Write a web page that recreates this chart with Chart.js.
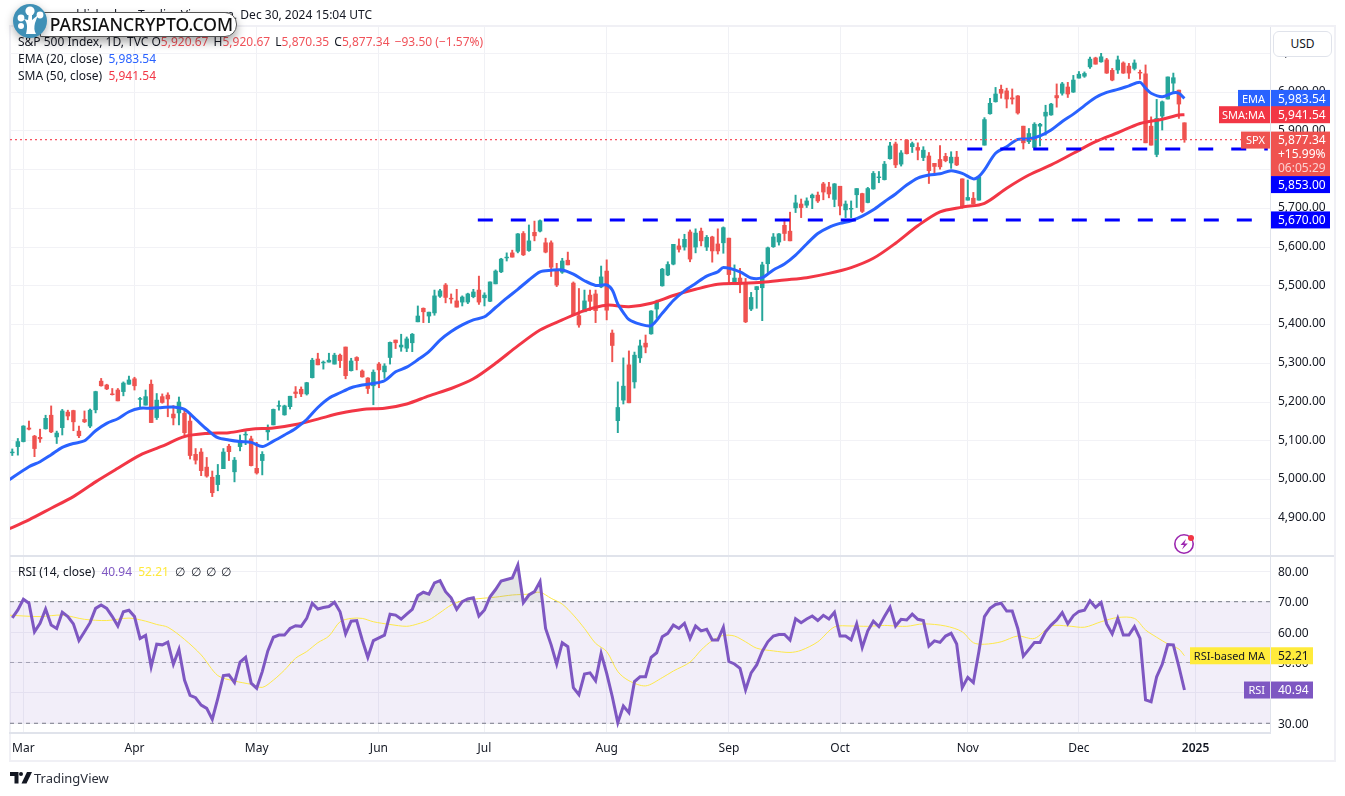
<!DOCTYPE html>
<html>
<head>
<meta charset="utf-8">
<title>S&amp;P 500 Index</title>
<script src="https://cdn.jsdelivr.net/npm/chart.js@4"></script>
<style>
  html, body { margin: 0; padding: 0; background: #fff; }
  body { width: 1345px; height: 796px; position: relative; overflow: hidden; font: 12px "Noto Sans", sans-serif; color: #131722; }
  canvas { position: absolute; left: 0; top: 0; }
  .frame { position: absolute; left: 9px; top: 25px; width: 1323px; height: 733px; border: 2px solid #f0f0f5; }
  .txt { position: absolute; white-space: nowrap; line-height: 16px; }
  .txt span { margin-right: 2px; }
  .txt i { font-style: normal; position: absolute; top: 0; }
  .red { color: #f0535a; }
  .blue { color: #2962ff; }
  .sma { color: #f23645; }
  .usd { position: absolute; left: 1273px; top: 31px; width: 57px; height: 24px; line-height: 24px; text-align: center; background: #fff; border: 1px solid #e0e3eb; border-radius: 6px; }
  .pill { position: absolute; left: 40px; top: 12px; width: 192px; height: 23px; line-height: 23px; background: #fff; border: 1px solid #555; border-radius: 0 12px 12px 0; font-weight: 500; font-size: 17.5px; color: #111; text-align: right; padding-right: 3px; box-shadow: 0 5px 10px rgba(0,0,0,.35); }
  .logo { position: absolute; left: 12px; top: 4px; filter: drop-shadow(0 3px 4px rgba(0,0,0,.3)); }
  .footer { position: absolute; left: 34px; top: 770px; font-size: 13px; color: #2a2e39; }
</style>
</head>
<body>
<div class="frame"></div>
<canvas id="chart" width="1345" height="796"></canvas>

<div class="txt" style="right:973px;top:7px">m published on TradingView.com, Dec 30, 2024 15:04 UTC</div>
<div class="txt" style="left:18px;top:34px">S&amp;P 500 Index, 1D, TVC&nbsp;O<span class="red">5,920.67</span> H<span class="red">5,920.67</span> L<span class="red">5,870.35</span> C<span class="red">5,877.34</span> <span class="red">−93.50 (−1.57%)</span></div>
<div class="txt" style="left:18px;top:51px">EMA (20, close)&nbsp; <span class="blue">5,983.54</span></div>
<div class="txt" style="left:18px;top:68px">SMA (50, close)&nbsp; <span class="sma">5,941.54</span></div>
<div class="txt" style="left:18px;top:564px;width:220px">RSI (14, close)&nbsp; <span style="color:#7e57c2;margin-right:3px">40.94</span> <span style="color:#ffe93b">52.21</span><i style="left:157px">∅</i><i style="left:173px">∅</i><i style="left:188px">∅</i><i style="left:203px">∅</i></div>
<div class="usd">USD</div>

<div class="pill">PARSIANCRYPTO.COM</div>
<svg class="logo" width="38" height="38" viewBox="0 0 38 38">
  <circle cx="18" cy="17" r="17" fill="#3f90b6"/>
  <g transform="translate(-1,-6)">
    <path d="M15 36 C17 28 16 24 13 21 L17 22 L18 14 L21 14 L21 22 L27 17 L24 25 C23 29 23 33 25 36 Z" fill="#fff"/>
    <circle cx="19" cy="13" r="4.6" fill="#fff"/>
    <circle cx="29" cy="17" r="3.4" fill="#fff"/>
    <circle cx="10" cy="20" r="3.4" fill="#fff"/>
    <circle cx="10" cy="28" r="3" fill="#fff"/>
  </g>
</svg>

<svg style="position:absolute;left:1172px;top:531px" width="26" height="26" viewBox="0 0 26 26">
  <circle cx="12" cy="13" r="9.2" fill="#fff" stroke="#9c27b0" stroke-width="1.6"/>
  <path d="M14 8 L8.5 14 L12 14 L10 18.5 L15.8 12.4 L12.4 12.4 Z" fill="#9c27b0"/>
  <circle cx="19" cy="7" r="3" fill="#f23645"/>
</svg>

<svg style="position:absolute;left:10px;top:772px" width="22" height="12" viewBox="0 0 22 12">
  <path d="M0 0 H8.5 V11.5 H4.5 V4 H0 Z" fill="#131722"/>
  <circle cx="11" cy="2" r="2" fill="#131722"/>
  <path d="M17 0 H22 L16.5 11.5 H11.5 Z" fill="#131722"/>
</svg>
<div class="txt footer">TradingView</div>

<script>
// Bar number 0 is Feb 28 2024, last bar is Dec 30 2024
const candleOpen = [
  5069,5085,5098,5133,5112,5109,5131,5166,5110,5134,
  5174,5178,5125,5155,5138,5180,5254,5244,5221,5231,
  5227,5246,5260,5207,5192,5246,5160,5214,5218,5169,
  5172,5171,5151,5065,5071,5032,5006,4987,5028,5086,
  5020,5085,5115,5105,5029,5049,5123,5141,5189,5167,
  5188,5226,5233,5221,5263,5311,5301,5303,5298,5321,
  5342,5281,5315,5280,5262,5242,5298,5278,5315,5360,
  5342,5339,5353,5407,5442,5422,5430,5473,5502,5468,
  5461,5458,5458,5472,5489,5469,5460,5505,5536,5572,
  5585,5589,5635,5591,5638,5641,5611,5611,5541,5535,
  5566,5507,5423,5433,5476,5479,5497,5538,5378,5152,
  5205,5296,5252,5314,5352,5376,5440,5500,5528,5556,
  5603,5600,5639,5600,5641,5600,5626,5608,5611,5623,
  5506,5520,5508,5440,5490,5495,5557,5601,5613,5656,
  5641,5701,5711,5708,5727,5734,5763,5755,5723,5757,
  5696,5698,5735,5738,5715,5750,5779,5774,5828,5866,
  5814,5876,5859,5857,5831,5835,5816,5826,5834,5817,
  5832,5776,5721,5726,5721,5863,5944,5975,6007,6003,
  5985,5990,5912,5872,5857,5912,5938,5941,5991,5997,
  6013,6000,6036,6041,6065,6088,6078,6083,6056,6057,
  6075,6067,6061,6051,6047,5912,5839,5938,5982,6023,
  6005,5920.67
];
const candleHigh = [
  5079,5106,5139,5151,5114,5130,5166,5190,5125,5181,
  5179,5179,5138,5177,5182,5228,5261,5246,5235,5235,
  5252,5267,5264,5212,5231,5257,5222,5221,5224,5191,
  5213,5179,5169,5080,5080,5057,5022,5039,5080,5091,
  5057,5115,5124,5112,5096,5072,5141,5182,5203,5192,
  5215,5240,5239,5251,5313,5326,5306,5326,5326,5324,
  5342,5313,5317,5283,5263,5283,5302,5299,5355,5360,
  5375,5368,5377,5448,5443,5432,5489,5491,5506,5479,
  5491,5474,5481,5491,5525,5482,5510,5541,5571,5585,
  5592,5635,5640,5657,5667,5670,5623,5616,5558,5571,
  5587,5510,5493,5489,5489,5489,5551,5567,5386,5252,
  5314,5332,5329,5360,5373,5436,5463,5545,5562,5607,
  5621,5633,5644,5647,5649,5630,5628,5647,5652,5623,
  5554,5545,5519,5483,5498,5561,5600,5635,5635,5672,
  5690,5734,5724,5727,5737,5742,5767,5767,5764,5757,
  5719,5719,5751,5739,5754,5795,5795,5821,5870,5871,
  5849,5878,5871,5869,5859,5844,5816,5862,5842,5846,
  5847,5776,5773,5741,5783,5934,5984,6012,6018,6010,
  6008,5991,5912,5906,5921,5919,5966,5971,6021,6025,
  6025,6043,6053,6052,6090,6090,6100,6087,6061,6093,
  6078,6074,6083,6057,6070,5936,5981,5977,6039,6049,
  6005,5920.67
];
const candleLow = [
  5062,5063,5097,5128,5059,5096,5130,5121,5093,5115,
  5154,5126,5108,5147,5134,5172,5241,5232,5218,5203,
  5216,5246,5231,5184,5192,5147,5155,5197,5162,5141,
  5141,5115,5053,5040,5010,5006,4956,4971,5028,5049,
  4994,5074,5090,5035,5014,5012,5102,5141,5179,5166,
  5182,5211,5214,5218,5262,5296,5285,5303,5298,5289,
  5260,5280,5283,5264,5222,5193,5237,5261,5298,5338,
  5331,5330,5330,5407,5405,5405,5424,5470,5456,5455,
  5445,5448,5454,5469,5452,5448,5459,5505,5534,5564,
  5574,5585,5578,5589,5616,5639,5585,5524,5498,5532,
  5554,5423,5393,5433,5436,5405,5495,5412,5304,5121,
  5195,5198,5236,5302,5327,5375,5416,5499,5526,5554,
  5587,5592,5562,5585,5603,5591,5561,5582,5584,5506,
  5505,5482,5405,5436,5442,5410,5534,5599,5605,5617,
  5616,5689,5676,5702,5699,5715,5722,5727,5704,5683,
  5676,5676,5702,5689,5714,5749,5766,5773,5827,5805,
  5809,5840,5844,5825,5823,5764,5786,5801,5820,5803,
  5810,5700,5721,5711,5721,5863,5943,5974,5984,5959,
  5969,5943,5853,5867,5855,5861,5889,5940,5961,5992,
  5986,5999,6036,6038,6061,6072,6077,6048,6029,6048,
  6048,6035,6057,6033,5869,5863,5833,5902,5982,5999,
  5932,5870.35
];
const candleClose = [
  5071,5098,5138,5130,5080,5105,5158,5123,5120,5177,
  5164,5149,5113,5149,5179,5227,5242,5234,5219,5203,
  5249,5257,5242,5209,5214,5147,5205,5199,5208,5159,
  5200,5121,5062,5050,5023,5009,4966,5011,5071,5072,
  5050,5101,5117,5036,5017,5065,5128,5181,5191,5190,
  5215,5222,5221,5250,5308,5296,5303,5308,5321,5307,
  5268,5306,5307,5265,5235,5277,5283,5293,5354,5353,
  5347,5363,5375,5422,5433,5432,5474,5487,5470,5466,
  5445,5471,5479,5484,5458,5476,5510,5538,5569,5574,
  5574,5634,5580,5616,5629,5668,5587,5548,5502,5564,
  5554,5425,5399,5461,5460,5436,5523,5437,5346,5186,
  5241,5198,5321,5345,5342,5435,5460,5543,5555,5607,
  5594,5620,5569,5636,5616,5625,5590,5590,5650,5529,
  5520,5508,5407,5470,5498,5554,5598,5626,5634,5635,
  5616,5714,5702,5719,5734,5719,5742,5737,5763,5706,
  5711,5700,5751,5692,5751,5790,5781,5814,5861,5812,
  5843,5841,5867,5850,5850,5797,5808,5807,5823,5832,
  5812,5704,5728,5711,5781,5929,5971,5995,5997,5982,
  5982,5946,5869,5893,5917,5917,5948,5969,5985,6021,
  5995,6031,6046,6048,6085,6072,6091,6049,6031,6083,
  6049,6049,6075,6049,5869,5863,5932,5975,6039,6037,
  5969,5877.34
];

const emaBars = [
  -1,3,5,7,9,11,13,15,17,19,21,23,25,27,29,31,33,35,37,39,41,43,45,47,49,51,53,55,
  57,59,61,63,65,67,69,71,73,75,77,79,81,83,85,87,89,91,93,95,97,99,101,103,105,107,108,109,
  110,111,113,115,117,119,121,123,125,127,128,131,133,135,137,139,141,143,145,147,149,151,153,155,157,159,161,163,
  165,167,169,171,173,174,175,177,179,181,183,185,187,189,191,193,195,197,199,201,203,204,205,207,209,210,211
];
const emaValues = [
  4995,5033,5046,5064,5083,5093,5100,5126,5145,5157,5175,5184,5184,5186,5187,5181,5156,5130,5108,5102,5098,5096,5085,5099,5115,5132,5155,5186,
  5210,5224,5237,5244,5248,5255,5278,5290,5309,5330,5360,5382,5399,5412,5420,5444,5468,5491,5515,5536,5540,5541,5530,5513,5501,5502,5489,5453,
  5431,5413,5401,5397,5429,5462,5487,5506,5525,5536,5547,5536,5520,5521,5541,5556,5579,5608,5635,5651,5661,5668,5680,5696,5717,5737,5760,5778,
  5786,5789,5797,5790,5776,5782,5799,5842,5859,5878,5879,5887,5902,5924,5943,5965,5986,5999,6007,6016,6025,6010,5997,5988,5998,5997,5983.54
];

const smaBars = [
  -1,3,7,11,15,19,23,27,31,35,39,43,47,51,55,59,63,67,71,75,79,83,87,91,95,99,103,107,
  111,115,119,123,127,131,135,139,143,147,151,155,159,163,167,171,175,179,183,187,191,195,199,203,207,210,211
];
const smaValues = [
  4870,4896,4926,4956,4994,5029,5063,5086,5111,5119,5121,5130,5133,5142,5156,5171,5181,5184,5195,5216,5235,5260,5300,5345,5386,5412,5436,5450,
  5446,5455,5475,5491,5504,5506,5509,5515,5521,5532,5547,5571,5610,5655,5691,5703,5713,5752,5786,5812,5842,5872,5895,5919,5930,5941,5941.54
];

const rsiValues = [
  64.7,67.3,70.8,69.5,60.1,62.9,67.6,62.3,61.2,66.5,
  65.1,62.7,57.2,60.1,63.1,67.8,68.9,67.8,65.1,62,
  66.7,67.2,65.1,57.9,58.9,48.6,56,55.8,56.7,49.4,
  54.3,44.2,39.2,38.4,36,34.9,31.3,38.2,45.7,45.9,
  43.4,50.1,51.7,43.2,41.5,47,53.8,58.3,59,59,
  61.2,62.1,61.9,64.5,69.5,67.6,68.1,68.4,69.8,66.7,
  59.4,63.6,63.8,57.4,51.7,57.2,58.1,59,65.9,65.6,
  64.3,65.9,67.5,72,73.1,72.5,76.2,76.9,73.3,71.3,
  67.5,70,70.9,71.3,65.3,67.3,71.6,74,76.8,77.3,
  77.8,82.1,69.7,72.2,73.3,76.6,61.2,55.8,49.5,56.5,
  55.2,41.7,39.4,46.2,46.6,44,53,46.4,38.8,30.2,
  35.7,33.5,43.7,45.3,45.3,51.7,53.2,58.5,59.6,62.3,
  61.2,62.9,57.9,62,60.4,60.9,57.4,57.4,61.6,50.3,
  49.5,48.1,41,46.6,49.2,53.6,56.8,58.7,59.2,59.2,
  57.4,64.4,63.1,64.3,65.3,63.8,65.5,64.3,66.5,58.7,
  58.7,57.4,62.7,54.9,60.4,63.6,61.8,65.1,68.2,62,
  64.2,64,65.9,64.2,63.8,55.4,57.1,56.6,58.7,59.6,
  56.1,41.7,45.1,43.4,53.6,65.1,67.8,69.1,69.5,66.9,
  66.9,61.2,52.1,54.3,56.6,56.6,60.1,62.3,64,66.4,
  62.7,65.4,66.8,67.2,70.3,68.1,69.7,62.7,59.4,64.5,
  59,59,61.8,57.9,37.7,37.1,45.3,49.4,55.9,55.8,
  48.6,40.94
];

const rsiMaBars = [
  -1,5,9,13,17,21,24,26,28,31,34,37,40,43,45,47,49,51,53,55,57,59,61,63,65,68,71,73,75,
  77,79,81,84,87,90,93,95,97,99,101,103,105,107,109,111,114,117,119,122,124,126,128,130,132,134,137,140,142,145,148,151,154,157,
  158,161,164,168,171,173,175,178,181,184,187,190,193,196,199,202,204,206,208,210,211
];
const rsiMaValues = [
  65.6,65.1,65.6,64.2,63.8,64.6,63.6,62.5,61.6,57.6,52.5,45.7,43.9,42.8,41.8,44.2,47.5,51.4,53.6,56.5,58.7,63.4,64.5,64.5,63.4,62.5,61.9,62.7,64,
  66.4,68.9,70.3,71,71.5,72.2,72.5,73.1,71.1,69.2,65.6,61.2,56.3,53.6,47,44,42.3,45,47.2,50.1,54.1,57.2,58.9,58.7,56.8,54.7,53.8,53.3,54,56.8,61.7,62,61.9,62.2,
  62.1,61.9,62.7,62,60.1,56.5,56,56.8,58.7,57.9,62,62,61.6,63.4,64.8,64.5,60.7,58.3,56.1,54.4,52.21
];

const monthBars = [2, 22, 44, 66, 85, 107, 129, 149, 172, 192, 213];
const monthLabels = ['Mar', 'Apr', 'May', 'Jun', 'Jul', 'Aug', 'Sep', 'Oct', 'Nov', 'Dec', '2025'];
const priceTicks = [4900, 5000, 5100, 5200, 5300, 5400, 5500, 5600, 5700, 5800, 5900, 6000, 6100];
const rsiTicks = [30, 40, 50, 60, 70, 80];

const supportHigh = 5853;
const supportLow = 5670;
const supportHighBars = [171.9, 226];
const supportLowBars = [83.8, 223.5];
const lastClose = 5877.34;
const lastEma = 5983.54;
const lastSma = 5941.54;
const lastRsi = 40.94;
const lastRsiMa = 52.21;
const rsiBands = [70, 50, 30];

const GREEN = '#26a69a';
const RED = '#ef5350';
const X_MIN = -0.41;
const X_MAX = 226.4;

const fmt = v => v.toLocaleString('en-US', { minimumFractionDigits: 2, maximumFractionDigits: 2 });
const pts = (xs, ys) => xs.map((x, i) => ({ x, y: ys[i] }));
const flat = (xs, v) => xs.map(x => ({ x, y: v }));
const upOrDown = candleClose.map((c, i) => c >= candleOpen[i] ? GREEN : RED);

const wicks = candleHigh.map((h, i) => ({ x: i, y: [candleLow[i], h] }));
const bodies = candleOpen.map((o, i) => ({ x: i, y: [Math.min(o, candleClose[i]), Math.max(o, candleClose[i])] }));

// price tags on the axis, drawn over the tick labels
function tag(ctx, area, y, h, label, labelLeft, value, valueRight, bg, fg) {
  ctx.fillStyle = bg;
  if (label) {
    ctx.fillRect(labelLeft, y - h / 2, area.right - labelLeft, h);
    ctx.fillStyle = fg;
    ctx.textAlign = 'right';
    ctx.font = '11px "Noto Sans", sans-serif';
    ctx.fillText(label, area.right - 5, y + 1);
    ctx.fillStyle = bg;
  }
  ctx.fillRect(area.right + 1, y - h / 2, valueRight - area.right - 1, h);
  ctx.fillStyle = fg;
  ctx.textAlign = 'left';
  ctx.font = '12px "Noto Sans", sans-serif';
  ctx.fillText(value, area.right + 8, y + 1);
}

const axisTags = {
  id: 'axisTags',
  afterDraw(chart) {
    const { ctx, chartArea: area, scales } = chart;
    const p = scales.y;
    const r = scales.yRsi;
    ctx.save();
    ctx.strokeStyle = '#e0e3eb';
    ctx.lineWidth = 2;
    ctx.beginPath();
    ctx.moveTo(area.left, p.bottom);
    ctx.lineTo(scales.y.right, p.bottom);
    ctx.stroke();

    ctx.textBaseline = 'middle';
    tag(ctx, area, p.getPixelForValue(lastEma), 17, 'EMA', 1238, fmt(lastEma), 1330, '#2962ff', '#fff');
    tag(ctx, area, p.getPixelForValue(lastSma), 17, 'SMA:MA', 1219, fmt(lastSma), 1330, '#f23645', '#fff');

    const closeY = p.getPixelForValue(lastClose);
    ctx.fillStyle = RED;
    ctx.fillRect(1241, closeY - 8, area.right - 1241, 17);
    ctx.fillRect(area.right + 1, closeY - 8, 59, 45);
    ctx.fillStyle = '#fff';
    ctx.textAlign = 'right';
    ctx.font = '11px "Noto Sans", sans-serif';
    ctx.fillText('SPX', area.right - 5, closeY + 1);
    ctx.textAlign = 'left';
    ctx.font = '12px "Noto Sans", sans-serif';
    ctx.fillText(fmt(lastClose), area.right + 8, closeY + 1);
    ctx.fillText('+15.99%', area.right + 8, closeY + 15);
    ctx.fillStyle = '#fbd0cf';
    ctx.fillText('06:05:29', area.right + 8, closeY + 29);

    // the 5,853 tag gets pushed down under the SPX tag
    tag(ctx, area, closeY + 45, 17, '', 0, fmt(supportHigh), 1330, '#0000ff', '#fff');
    tag(ctx, area, p.getPixelForValue(supportLow), 17, '', 0, fmt(supportLow), 1330, '#0000ff', '#fff');

    tag(ctx, area, r.getPixelForValue(lastRsiMa), 17, 'RSI-based MA', 1190, lastRsiMa.toFixed(2), 1313, '#ffeb3b', '#131722');
    tag(ctx, area, r.getPixelForValue(lastRsi), 17, 'RSI', 1244, lastRsi.toFixed(2), 1313, '#7e57c2', '#fff');
    ctx.restore();
  }
};

const lineBase = { type: 'line', pointRadius: 0, fill: false };
const edges = [X_MIN, X_MAX];

new Chart(document.getElementById('chart'), {
  data: {
    datasets: [
      { type: 'bar', data: wicks, yAxisID: 'y', backgroundColor: upOrDown, barThickness: 1.3, grouped: false, order: 8 },
      { type: 'bar', data: bodies, yAxisID: 'y', backgroundColor: upOrDown, barThickness: 3.8, grouped: false, order: 7 },
      { ...lineBase, data: pts(smaBars, smaValues), yAxisID: 'y', borderColor: '#f23645', borderWidth: 3, tension: 0.3, order: 6 },
      { ...lineBase, data: pts(emaBars, emaValues), yAxisID: 'y', borderColor: '#2962ff', borderWidth: 3, tension: 0.3, order: 5 },
      { ...lineBase, data: flat(edges, lastClose), yAxisID: 'y', borderColor: '#f7525f', borderWidth: 1.2, borderDash: [2, 3], order: 4 },
      { ...lineBase, data: flat(supportHighBars, supportHigh), yAxisID: 'y', borderColor: '#0000ff', borderWidth: 3, borderDash: [15, 18], order: 3 },
      { ...lineBase, data: flat(supportLowBars, supportLow), yAxisID: 'y', borderColor: '#0000ff', borderWidth: 3, borderDash: [15, 18], order: 3 },

      { ...lineBase, data: flat(edges, rsiBands[0]), yAxisID: 'yRsi', borderColor: '#787b86', borderWidth: 1, borderDash: [4, 4], fill: '+1', backgroundColor: 'rgba(126,87,194,0.1)', order: 9 },
      { ...lineBase, data: flat(edges, rsiBands[2]), yAxisID: 'yRsi', borderColor: '#787b86', borderWidth: 1, borderDash: [4, 4], order: 9 },
      { ...lineBase, data: flat(edges, rsiBands[1]), yAxisID: 'yRsi', borderColor: 'rgba(120,123,134,0.6)', borderWidth: 1, borderDash: [4, 4], order: 9 },
      { ...lineBase, data: pts(rsiMaBars, rsiMaValues), yAxisID: 'yRsi', borderColor: '#fde84a', borderWidth: 1, tension: 0.3, order: 2 },
      {
        ...lineBase,
        data: pts(rsiValues.map((v, i) => i), rsiValues),
        yAxisID: 'yRsi',
        borderColor: '#7e57c2',
        borderWidth: 3,
        fill: { target: { value: 70 }, above: 'rgba(120,123,134,0.2)', below: 'rgba(0,0,0,0)' },
        order: 1
      }
    ]
  },
  plugins: [axisTags],
  options: {
    responsive: false,
    animation: false,
    layout: { padding: { left: 10, top: 27, right: 11, bottom: 36 } },
    plugins: { legend: { display: false }, tooltip: { enabled: false } },
    scales: {
      x: {
        type: 'linear',
        offset: false,
        min: X_MIN,
        max: X_MAX,
        afterBuildTicks: s => { s.ticks = monthBars.map(value => ({ value })); },
        afterFit: s => { s.height = 27; },
        grid: { color: '#f0f1f5', drawTicks: false, offset: false },
        border: { color: '#e0e3eb', width: 2 },
        ticks: {
          autoSkip: false,
          maxRotation: 0,
          padding: 8,
          color: '#131722',
          font: c => ({ family: '"Noto Sans", sans-serif', size: 12, weight: c.index === 10 ? '600' : '400' }),
          callback: (v, i) => monthLabels[i]
        }
      },
      y: {
        position: 'right',
        stack: 'panes',
        stackWeight: 529,
        min: 4802.7,
        max: 6167.9,
        afterBuildTicks: s => { s.ticks = priceTicks.map(value => ({ value })); },
        afterFit: s => { s.width = 64; },
        grid: { color: '#f2f2f6', drawTicks: false },
        border: { color: '#e0e3eb' },
        ticks: {
          autoSkip: false,
          padding: 8,
          labelOffset: -0.5,
          color: '#131722',
          font: { family: '"Noto Sans", sans-serif', size: 12 },
          callback: v => fmt(v)
        }
      },
      yRsi: {
        position: 'right',
        stack: 'panes',
        stackWeight: 177,
        min: 26.8,
        max: 85.03,
        afterBuildTicks: s => { s.ticks = rsiTicks.map(value => ({ value })); },
        afterFit: s => { s.width = 64; },
        grid: { color: '#f0f0f5', drawTicks: false },
        border: { color: '#e0e3eb' },
        ticks: {
          autoSkip: false,
          padding: 8,
          labelOffset: 1,
          color: '#131722',
          font: { family: '"Noto Sans", sans-serif', size: 12 },
          callback: v => v.toFixed(2)
        }
      }
    }
  }
});
</script>
</body>
</html>
